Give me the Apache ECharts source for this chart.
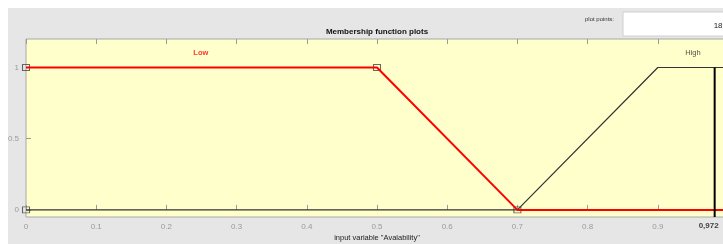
<!DOCTYPE html>
<html>
<head>
<meta charset="utf-8">
<script src="https://cdn.jsdelivr.net/npm/echarts@6/dist/echarts.min.js"></script>
<style>
  html, body { margin: 0; padding: 0; background: #fff; }
  #chart { width: 723px; height: 244px; }
</style>
</head>
<body>
<div id="chart"></div>
<script>
// membership function "Low" (trapezoid) and "High" vertices
var lowPoints = [[0, 1], [0.5, 1], [0.7, 0], [1, 0]]
var highPoints = [[0, 0], [0.7, 0], [0.9, 1], [1, 1]]
// vertices of the selected function, drawn as small squares
var handlePoints = [[0, 0], [0, 1], [0.5, 1], [0.7, 0]]
var mfNames = ['Low', 'High']
var mfLabelPos = [[0.249, 1.1], [0.95, 1.1]]
// current input value line
var inputX = 0.981
var inputText = '0,972'
var yTicks = [0, 0.5, 1]
var plotPoints = '181'

var chart = echarts.init(document.getElementById('chart'))
var font = 'Liberation Sans, Arial, sans-serif'

chart.setOption({
  backgroundColor: '#fff',
  animation: false,
  graphic: [
    { type: 'rect', z: -10, shape: { x: 8, y: 8, width: 720, height: 240 }, style: { fill: '#e6e6e6' } },
    { type: 'rect', shape: { x: 623, y: 12, width: 110, height: 24 }, style: { fill: '#fff', stroke: '#cfcfcf', lineWidth: 1 } },
    { type: 'text', x: 614, y: 19, style: { text: 'plot points:', font: '6px ' + font, fill: '#333', align: 'right', verticalAlign: 'middle' } },
    { type: 'text', x: 727, y: 26, style: { text: plotPoints, font: '8px ' + font, fill: '#222', align: 'right', verticalAlign: 'middle' } },
    { type: 'text', x: 377, y: 32, style: { text: 'Membership function plots', font: 'bold 8px ' + font, fill: '#111', align: 'center', verticalAlign: 'middle' } },
    { type: 'text', x: 377, y: 238, style: { text: 'input variable "Avalability"', font: '7.5px ' + font, fill: '#222', align: 'center', verticalAlign: 'middle' } }
  ],
  grid: {
    left: 26, top: 39, width: 702, height: 178,
    outerBoundsMode: 'none', containLabel: false,
    show: true, backgroundColor: '#ffffcc', borderColor: '#a8a8a8', borderWidth: 1
  },
  xAxis: [{
    type: 'value', min: 0, max: 1, interval: 0.1,
    axisLine: { show: false },
    axisTick: { inside: true, length: 5, lineStyle: { color: '#9a9a9a' } },
    axisLabel: {
      color: '#9a9a9a', fontSize: 8, fontFamily: font, margin: 6,
      formatter: function (v) { return v >= 1 ? '' : String(Math.round(v * 10) / 10) }
    },
    splitLine: { show: false }
  }, {
    type: 'value', min: 0, max: 1, interval: 0.1, position: 'top',
    axisLine: { show: false },
    axisTick: { inside: true, length: 5, lineStyle: { color: '#9a9a9a' } },
    axisLabel: { show: false },
    splitLine: { show: false }
  }],
  yAxis: {
    type: 'value', min: -0.05, max: 1.2,
    axisLine: { show: false },
    axisTick: { inside: true, length: 5, customValues: yTicks, lineStyle: { color: '#9a9a9a' } },
    axisLabel: { color: '#9a9a9a', fontSize: 8, fontFamily: font, margin: 7, customValues: yTicks },
    splitLine: { show: false }
  },
  series: [
    {
      type: 'line', data: highPoints, symbol: 'none',
      lineStyle: { color: '#333', width: 1.2 }
    },
    {
      type: 'line', data: lowPoints, symbol: 'none',
      lineStyle: { color: '#ff0000', width: 2 }
    },
    {
      type: 'scatter', data: handlePoints, symbol: 'rect', symbolSize: [7, 6],
      itemStyle: { color: 'rgba(0,0,0,0)', borderColor: '#444', borderWidth: 1 }
    },
    {
      type: 'line', data: [[inputX, -0.05], [inputX, 1]], symbol: 'none',
      lineStyle: { color: '#000', width: 2 }
    },
    {
      type: 'scatter', data: [[inputX, -0.05]], symbolSize: 0,
      label: {
        show: true, position: 'bottom', distance: 5, offset: [-6, 0], formatter: inputText,
        color: '#111', fontWeight: 'bold', fontSize: 8, fontFamily: font
      }
    },
    {
      type: 'scatter', symbolSize: 0,
      data: [
        { value: mfLabelPos[0], name: mfNames[0], label: { color: '#ff0000', fontWeight: 'bold' } },
        { value: mfLabelPos[1], name: mfNames[1], label: { color: '#222' } }
      ],
      label: { show: true, position: 'inside', formatter: '{b}', fontSize: 7.5, fontFamily: font },
      itemStyle: { color: 'transparent' }
    }
  ]
})
</script>
</body>
</html>
